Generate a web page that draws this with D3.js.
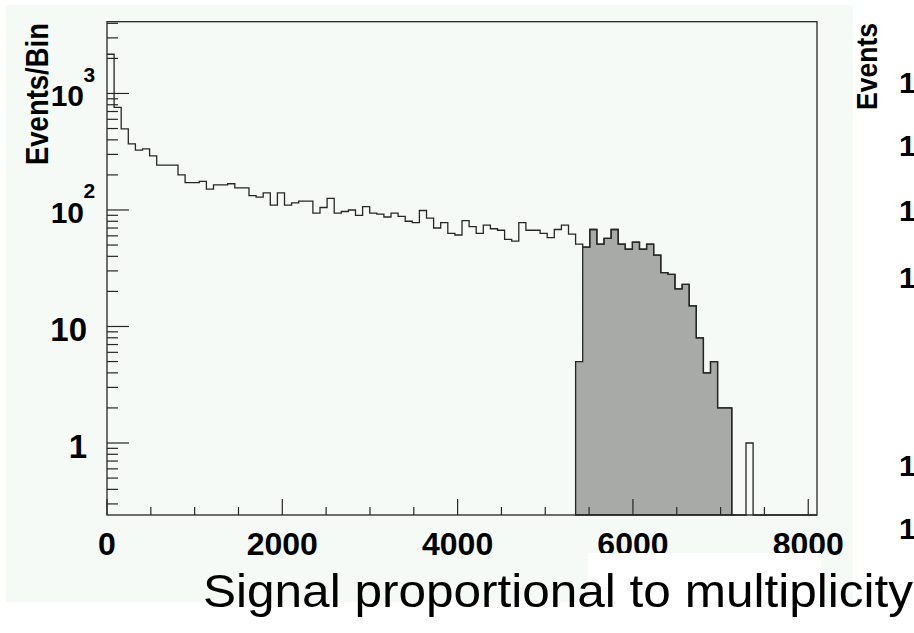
<!DOCTYPE html>
<html>
<head>
<meta charset="utf-8">
<script src="https://cdn.jsdelivr.net/npm/d3@7"></script>
<style>
  html, body { margin: 0; padding: 0; background: #ffffff; }
  svg { display: block; }
  text { font-family: "Liberation Sans", Arial, Helvetica, sans-serif; fill: #000; }
</style>
</head>
<body>
<div id="chart"></div>
<script>
// histogram: 100 bins over 0..8100
var nBins = 100;
var xMax = 8100;
var totalCounts = [
  2170, 761, 496, 369, 327, 334, 291, 243, 243, 243,
  200, 172, 172, 176, 151, 164, 164, 168, 155, 155,
  133, 129, 140, 110, 140, 110, 115, 119, 119, 94,
  105, 126, 94, 97, 100, 90, 107, 94, 92, 87,
  94, 88, 80, 78, 99, 85, 70, 78, 63, 61,
  81, 72, 63, 74, 69, 67, 56, 54, 78, 67,
  67, 63, 58, 68, 74, 62, 51, 48, 68, 51,
  57, 68, 51, 46, 53, 46, 51, 41, 29, 28,
  21, 23, 15, 8, 4, 5, 2, 2, 0, 0,
  1, 0, 0, 0, 0, 0, 0, 0, 0, 0
];
// shaded (selected) part, starting at bin 66
var cutFirstBin = 66;
var cutCounts = [5, 48, 68, 51, 57, 68, 51, 46, 53, 46, 51, 41, 29, 28, 21, 23, 15, 8, 4, 5, 2, 2];

var xMajorTicks = [0, 2000, 4000, 6000, 8000];
var xMinorTicks = [500, 1000, 1500, 2500, 3000, 3500, 4500, 5000, 5500, 6500, 7000, 7500];
var xTickLabels = ["0", "2000", "4000", "6000", "8000"];
var yMajorTicks = [1, 10, 100, 1000];
var yLabelBase = ["1", "10", "10", "10"];
var yLabelExp = ["", "", "2", "3"];
var yMin = 0.241, yMax = 4130;

var W = 914, H = 633;
var svg = d3.select("#chart").append("svg").attr("width", W).attr("height", H);

// slide background
svg.append("rect").attr("x", 6).attr("y", 5).attr("width", 847).attr("height", 597).attr("fill", "#f6faf7");

var x = d3.scaleLinear().domain([0, xMax]).range([107, 817]);
var y = d3.scaleLog().domain([yMin, yMax]).range([515, 21.7]);
var bw = xMax / nBins;
var ink = "#262626";

function yv(c) { return y(Math.max(c, yMin)); }

// shaded histogram
var cutPts = cutCounts.map(function(c, i){ return [(cutFirstBin + i) * bw, c]; });
cutPts.push([(cutFirstBin + cutCounts.length) * bw, cutCounts[cutCounts.length - 1]]);
var area = d3.area().x(function(d){ return x(d[0]); }).y0(y(yMin)).y1(function(d){ return yv(d[1]); }).curve(d3.curveStepAfter);
svg.append("path").attr("d", area(cutPts)).attr("fill", "#a7aaa6").attr("stroke", ink).attr("stroke-width", 1.3);

// full histogram outline
var totPts = totalCounts.map(function(c, i){ return [i * bw, c]; });
totPts.push([xMax, totalCounts[totalCounts.length - 1]]);
var line = d3.line().x(function(d){ return x(d[0]); }).y(function(d){ return yv(d[1]); }).curve(d3.curveStepAfter);
svg.append("path").attr("d", line(totPts)).attr("fill", "none").attr("stroke", ink).attr("stroke-width", 1.3);

// frame
svg.append("rect").attr("x", x(0)).attr("y", y(yMax)).attr("width", x(xMax) - x(0)).attr("height", y(yMin) - y(yMax))
  .attr("fill", "none").attr("stroke", ink).attr("stroke-width", 1.3);

// y ticks
var yTicks = y.ticks().filter(function(t){ return t >= yMin && t <= yMax; });
svg.selectAll(".yt").data(yTicks).enter().append("line")
  .attr("x1", x(0)).attr("x2", function(t){
    var l = Math.log10(t); return x(0) + (Math.abs(l - Math.round(l)) < 1e-9 ? 22 : 11);
  })
  .attr("y1", function(t){ return y(t); }).attr("y2", function(t){ return y(t); })
  .attr("stroke", ink).attr("stroke-width", 1.2);

// x ticks
svg.selectAll(".xt").data(xMajorTicks.concat(xMinorTicks)).enter().append("line")
  .attr("x1", function(t){ return x(t); }).attr("x2", function(t){ return x(t); })
  .attr("y1", y(yMin)).attr("y2", function(t){ return y(yMin) - (xMajorTicks.indexOf(t) >= 0 ? 16 : 8); })
  .attr("stroke", ink).attr("stroke-width", 1.2);

// x labels
svg.selectAll(".xl").data(xMajorTicks).enter().append("text")
  .attr("x", function(t){ return x(t); }).attr("y", 555)
  .attr("text-anchor", "middle").attr("font-weight", "bold").attr("font-size", 32)
  .text(function(t, i){ return xTickLabels[i]; });

// y labels
yMajorTicks.forEach(function(t, i){
  var ty = y(t);
  if (yLabelExp[i] === "") {
    svg.append("text").attr("x", 87).attr("y", ty + 15).attr("text-anchor", "end")
      .attr("font-weight", "bold").attr("font-size", 33).text(yLabelBase[i]);
  } else {
    svg.append("text").attr("x", 84).attr("y", ty + 12.7).attr("text-anchor", "end")
      .attr("font-weight", "bold").attr("font-size", 30).text(yLabelBase[i]);
    svg.append("text").attr("x", 83.5).attr("y", ty - 11.5).attr("text-anchor", "start")
      .attr("font-weight", "bold").attr("font-size", 21).text(yLabelExp[i]);
  }
});

// y axis title
svg.append("text").attr("transform", "translate(48,165) rotate(-90)")
  .attr("font-weight", "bold").attr("font-size", 32)
  .attr("textLength", 142).attr("lengthAdjust", "spacingAndGlyphs").text("Events/Bin");

// neighbouring (cut-off) plot on the right
svg.append("text").attr("transform", "translate(877,110) rotate(-90)")
  .attr("font-weight", "bold").attr("font-size", 30)
  .attr("textLength", 87).attr("lengthAdjust", "spacingAndGlyphs").text("Events");
[82, 145, 210, 277, 465, 528].forEach(function(cy){
  svg.append("text").attr("x", 899).attr("y", cy + 11).attr("font-weight", "bold").attr("font-size", 30).text("10");
});

// white box covering the lower part of the slide
svg.append("rect").attr("x", 588).attr("y", 553).attr("width", 233).attr("height", 80).attr("fill", "#ffffff");

// caption
svg.append("text").attr("x", 203).attr("y", 607).attr("font-size", 47)
  .attr("textLength", 710).attr("lengthAdjust", "spacingAndGlyphs")
  .text("Signal proportional to multiplicity");
</script>
</body>
</html>
